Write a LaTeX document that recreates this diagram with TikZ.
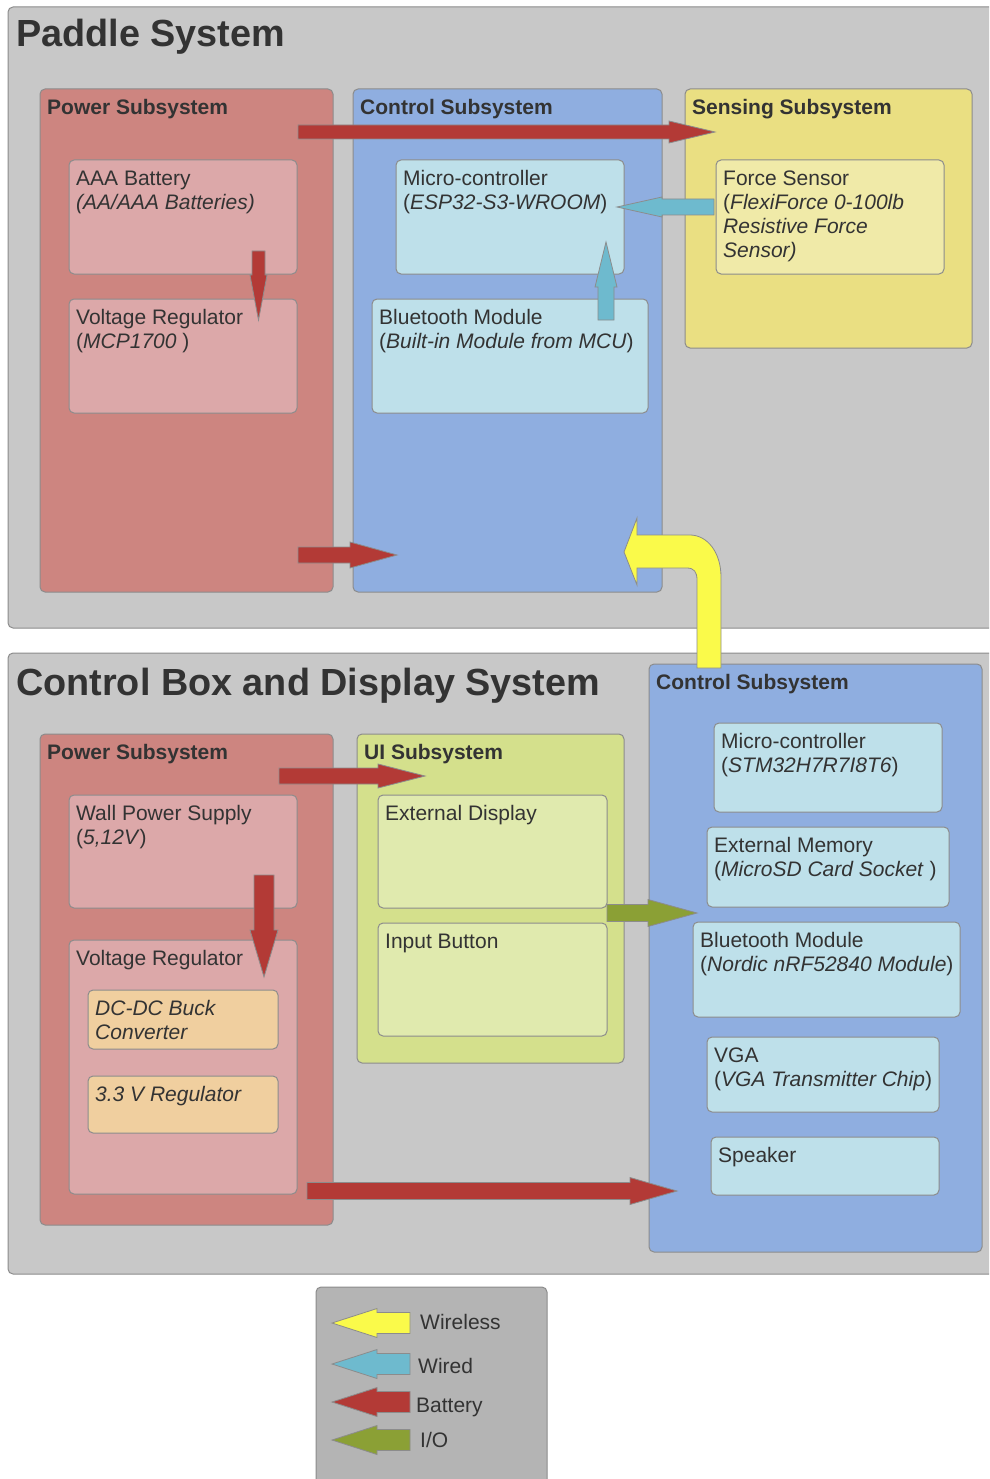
\documentclass[tikz,border=0pt]{standalone}
\usepackage{fontspec}
\setmainfont{Liberation Sans}
\usepackage{xcolor}
\usetikzlibrary{calc}

\definecolor{PanelGray}{HTML}{C8C8C8}
\definecolor{EdgeGray}{HTML}{8C8C8C}
\definecolor{InkGray}{HTML}{333333}
\definecolor{PowerRed}{HTML}{CD8580}
\definecolor{PowerPink}{HTML}{DCA8A9}
\definecolor{CtrlBlue}{HTML}{8FAEE0}
\definecolor{CtrlCyan}{HTML}{BEE0EA}
\definecolor{SenseYellow}{HTML}{EADF82}
\definecolor{SenseLight}{HTML}{F0EAA8}
\definecolor{UIGreen}{HTML}{D4E08C}
\definecolor{UILight}{HTML}{E0EAAE}
\definecolor{RegOrange}{HTML}{F0CF9F}
\definecolor{LegendGray}{HTML}{B4B4B4}
\definecolor{WirelessYellow}{HTML}{FAFA4A}
\definecolor{WiredBlue}{HTML}{6EBACE}
\definecolor{BatteryRed}{HTML}{B33A36}
\definecolor{IOGreen}{HTML}{8BA035}

\tikzset{
    panel/.style={draw=EdgeGray, line width=1pt, rounded corners=5pt, anchor=north west, inner sep=0pt, outer sep=0pt},
    lbl/.style={anchor=north west, align=left, inner sep=0pt, text=InkGray, font=\fontsize{21}{24}\selectfont, xshift=7, yshift=-10.5},
    cap/.style={label={[lbl]north west:#1}},
    title/.style={anchor=base west, inner sep=0pt, text=InkGray, font=\fontsize{37.8}{40}\selectfont\bfseries},
    keytext/.style={anchor=base west, inner sep=0pt, text=InkGray, font=\fontsize{21}{24}\selectfont},
    blockarrow/.style={draw=EdgeGray, line width=0.8pt, line join=miter},
}

% fill colour, tail, tip, half shaft, half head, head length
\newcommand{\blockarrow}[6]{%
    \path[blockarrow, fill=#1] let \p1=(#2), \p2=(#3),
        \n1={veclen(\x2-\x1,\y2-\y1)},
        \n2={(\x2-\x1)/\n1}, \n3={(\y2-\y1)/\n1}
    in ({\x1-#4*\n3},{\y1+#4*\n2})
        -- ({\x2-#6*\n2-#4*\n3},{\y2-#6*\n3+#4*\n2})
        -- ({\x2-#6*\n2-#5*\n3},{\y2-#6*\n3+#5*\n2})
        -- (\p2)
        -- ({\x2-#6*\n2+#5*\n3},{\y2-#6*\n3-#5*\n2})
        -- ({\x2-#6*\n2+#4*\n3},{\y2-#6*\n3-#4*\n2})
        -- ({\x1+#4*\n3},{\y1-#4*\n2}) -- cycle;}

\begin{document}
\begin{tikzpicture}[x=1pt, y=-1pt]
    \useasboundingbox (0,0) rectangle (989,1479);
    \clip (0,0) rectangle (989,1479);

    % Paddle system
    \node[panel, fill=PanelGray, minimum width=990, minimum height=621] (paddle) at (8,7) {};
    \node[title] (paddleTitle) at (16,47) {Paddle System};

    \node[panel, fill=PowerRed, minimum width=293, minimum height=503, cap={\textbf{Power Subsystem}}] (pPower) at (40,89) {};
    \node[panel, fill=PowerPink, minimum width=228, minimum height=114, cap={AAA Battery\\\textit{(AA/AAA Batteries)}}] (pBattery) at (69,160) {};
    \node[panel, fill=PowerPink, minimum width=228, minimum height=114, cap={Voltage Regulator\\(\textit{MCP1700} )}] (pRegulator) at (69,299) {};

    \node[panel, fill=CtrlBlue, minimum width=309, minimum height=503, cap={\textbf{Control Subsystem}}] (pControl) at (353,89) {};
    \node[panel, fill=CtrlCyan, minimum width=228, minimum height=114, cap={Micro-controller\\(\textit{ESP32-S3-WROOM})}] (pMCU) at (396,160) {};
    \node[panel, fill=CtrlCyan, minimum width=276, minimum height=114, cap={Bluetooth Module\\(\textit{Built-in Module from MCU})}] (pBluetooth) at (372,299) {};

    \node[panel, fill=SenseYellow, minimum width=287, minimum height=259, cap={\textbf{Sensing Subsystem}}] (pSensing) at (685,89) {};
    \node[panel, fill=SenseLight, minimum width=228, minimum height=114, cap={Force Sensor\\(\textit{FlexiForce 0-100lb}\\\textit{Resistive Force}\\\textit{Sensor)}}] (pForce) at (716,160) {};

    % Control box and display system
    \node[panel, fill=PanelGray, minimum width=990, minimum height=621] (station) at (8,653) {};
    \node[title] (stationTitle) at (16,695) {Control Box and Display System};

    \node[panel, fill=PowerRed, minimum width=293, minimum height=491, cap={\textbf{Power Subsystem}}] (cPower) at (40,734) {};
    \node[panel, fill=PowerPink, minimum width=228, minimum height=113, cap={Wall Power Supply\\(\textit{5,12V})}] (cWall) at (69,795) {};
    \node[panel, fill=PowerPink, minimum width=228, minimum height=254, cap={Voltage Regulator}] (cRegulator) at (69,940) {};
    \node[panel, fill=RegOrange, minimum width=190, minimum height=59, cap={\textit{DC-DC Buck}\\\textit{Converter}}] (cBuck) at (88,990) {};
    \node[panel, fill=RegOrange, minimum width=190, minimum height=57, cap={\textit{3.3 V Regulator}}] (cLdo) at (88,1076) {};

    \node[panel, fill=UIGreen, minimum width=267, minimum height=329, cap={\textbf{UI Subsystem}}] (cUI) at (357,734) {};
    \node[panel, fill=UILight, minimum width=229, minimum height=113, cap={External Display}] (cDisplay) at (378,795) {};
    \node[panel, fill=UILight, minimum width=229, minimum height=113, cap={Input Button}] (cButton) at (378,923) {};

    \node[panel, fill=CtrlBlue, minimum width=333, minimum height=588, cap={\textbf{Control Subsystem}}] (cControl) at (649,664) {};
    \node[panel, fill=CtrlCyan, minimum width=228, minimum height=89, cap={Micro-controller\\(\textit{STM32H7R7I8T6})}] (cMCU) at (714,723) {};
    \node[panel, fill=CtrlCyan, minimum width=242, minimum height=80, cap={External Memory\\(\textit{MicroSD Card Socket} )}] (cMemory) at (707,827) {};
    \node[panel, fill=CtrlCyan, minimum width=267, minimum height=95, cap={Bluetooth Module\\(\textit{Nordic nRF52840 Module})}] (cBluetooth) at (693,922) {};
    \node[panel, fill=CtrlCyan, minimum width=232, minimum height=75, cap={VGA\\(\textit{VGA Transmitter Chip})}] (cVGA) at (707,1037) {};
    \node[panel, fill=CtrlCyan, minimum width=228, minimum height=58, cap={Speaker}] (cSpeaker) at (711,1137) {};

    % legend
    \node[panel, fill=LegendGray, minimum width=231, minimum height=210] (legend) at (316,1287) {};
    \node[keytext] (keyWireless) at (420,1329) {Wireless};
    \node[keytext] (keyWired) at (418,1373) {Wired};
    \node[keytext] (keyBattery) at (416,1412) {Battery};
    \node[keytext] (keyIO) at (420,1447) {I/O};

    % arrow ends
    \coordinate (battMain) at (298,132);
    \coordinate (battSense) at (715,132);
    \coordinate (battLow) at (298,555);
    \coordinate (battCtrl) at (397,555);
    \coordinate (cellOut) at (258.5,251);
    \coordinate (cellIn) at (258.5,320);
    \coordinate (forceOut) at (714,207);
    \coordinate (forceIn) at (617,207);
    \coordinate (btOut) at (606,320);
    \coordinate (btIn) at (606,242);
    \coordinate (wallOut) at (279,776);
    \coordinate (wallUI) at (425,776);
    \coordinate (wallDown) at (264,875);
    \coordinate (wallReg) at (264,977);
    \coordinate (uiOut) at (607,913);
    \coordinate (uiIn) at (697,913);
    \coordinate (regOut) at (307,1191);
    \coordinate (regIn) at (677,1191);
    \coordinate (radioTail) at (709,668);
    \coordinate (radioTip) at (624,552);

    \blockarrow{BatteryRed}{battMain}{battSense}{7}{11}{46}
    \blockarrow{BatteryRed}{battLow}{battCtrl}{8}{13}{47}
    \blockarrow{BatteryRed}{cellOut}{cellIn}{6.5}{8.5}{45}
    \blockarrow{WiredBlue}{forceOut}{forceIn}{8}{10}{45}
    \blockarrow{WiredBlue}{btOut}{btIn}{8}{11}{45}
    \blockarrow{BatteryRed}{wallOut}{wallUI}{8}{12}{47}
    \blockarrow{BatteryRed}{wallDown}{wallReg}{10}{14}{47}
    \blockarrow{IOGreen}{uiOut}{uiIn}{8.5}{13.5}{49}
    \blockarrow{BatteryRed}{regOut}{regIn}{8.5}{13.5}{47}

    % wireless link between the two control subsystems
    \path[blockarrow, fill=WirelessYellow] ([xshift=-12]radioTail) -- ([xshift=12]radioTail)
        -- (721,577) .. controls (721,552) and (707,535) .. (690,535)
        -- (637,535) -- (637,518) -- (radioTip) -- (637,585) -- (637,568)
        -- (687,568) .. controls (694,568) and (697,572) .. (697,580) -- cycle;

    \coordinate (keyWirelessTail) at (410,1323);
    \coordinate (keyWirelessTip) at (332,1323);
    \coordinate (keyWiredTail) at (410,1364);
    \coordinate (keyWiredTip) at (332,1364);
    \coordinate (keyBatteryTail) at (410,1402);
    \coordinate (keyBatteryTip) at (332,1402);
    \coordinate (keyIOTail) at (410,1440);
    \coordinate (keyIOTip) at (332,1440);
    \blockarrow{WirelessYellow}{keyWirelessTail}{keyWirelessTip}{10.5}{14.5}{45}
    \blockarrow{WiredBlue}{keyWiredTail}{keyWiredTip}{10.5}{14.5}{45}
    \blockarrow{BatteryRed}{keyBatteryTail}{keyBatteryTip}{10.5}{14.5}{45}
    \blockarrow{IOGreen}{keyIOTail}{keyIOTip}{10.5}{14.5}{45}
\end{tikzpicture}
\end{document}
